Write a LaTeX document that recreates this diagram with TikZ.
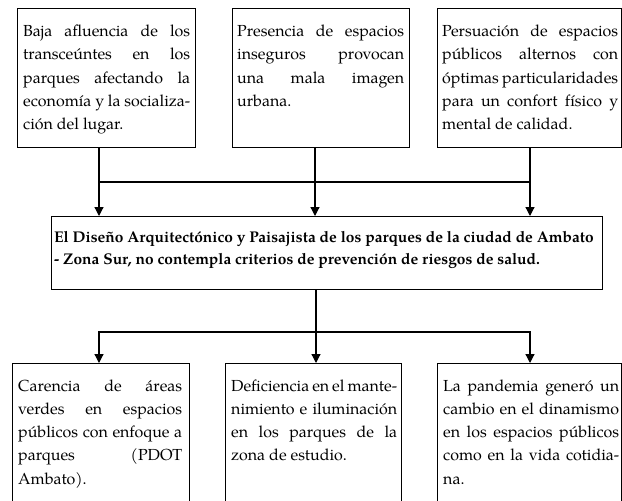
\documentclass[tikz,border=0pt]{standalone}
\usepackage{fontspec}
\setmainfont{TeX Gyre Pagella}
\usetikzlibrary{arrows.meta}
\newcommand\jline[1]{\noindent\makebox[\hsize][s]{#1}\par}
\newcommand\lline[1]{\noindent\makebox[\hsize][l]{#1}\par}
\newcommand\btext[2]{\vbox{\hsize=#1\relax\fontsize{16}{23.2}\selectfont\parindent=0pt\parskip=0pt\hbox{}#2}}
\newcommand\bbtext[2]{\vbox{\hsize=#1\relax\fontsize{15.5}{22}\selectfont\bfseries\parindent=0pt\parskip=0pt\hbox{}#2}}
\begin{document}
\begin{tikzpicture}[x=1pt,y=-1pt,
  box/.style={draw, line width=1.2pt, inner sep=0pt, anchor=north west},
  txt/.style={inner sep=0pt, anchor=north west},
  ln/.style={line width=1.2pt, line cap=rect},
  arr/.style={line width=1.2pt, -{Triangle[width=9pt,length=9pt]}}]
\useasboundingbox (0,0) rectangle (622,501);
\fill[white] (0,0) rectangle (622,501);
\clip (0,0) rectangle (622,501);
% top boxes
\node[box, minimum width=178pt, minimum height=139pt] (t1) at (17,8) {};
\node[txt] (t1x) at (23,13.3) {\btext{167pt}{%
\jline{Baja afluencia de los}
\jline{transceúntes en los}
\jline{parques afectando la}
\jline{economía y la socializa-}
\lline{ción del lugar.}}};
\node[box, minimum width=177pt, minimum height=139pt] (t2) at (232,8) {};
\node[txt] (t2x) at (237,13.3) {\btext{167pt}{%
\jline{Presencia de espacios}
\jline{inseguros provocan}
\jline{una mala imagen}
\lline{urbana.}}};
\node[box, minimum width=184pt, minimum height=139pt] (t3) at (437,8) {};
\node[txt] (t3x) at (442,13.3) {\btext{176pt}{%
\jline{Persuación de espacios}
\jline{públicos alternos con}
\jline{óptimas particularidades}
\jline{para un confort físico y}
\lline{mental de calidad.}}};
% central box
\node[box, minimum width=551pt, minimum height=73pt] (c) at (51,216) {};
\node[txt] (cx) at (54,220) {\bbtext{545pt}{%
\lline{El Diseño Arquitectónico y Paisajista de los parques de la ciudad de Ambato}
\lline{- Zona Sur, no contempla criterios de prevención de riesgos de salud.}}};
% bottom boxes
\node[box, minimum width=177pt, minimum height=200pt] (b1) at (12,363) {};
\node[txt] (b1x) at (18,367.8) {\btext{164pt}{%
\jline{Carencia de áreas}
\jline{verdes en espacios}
\jline{públicos con enfoque a}
\jline{parques (PDOT}
\lline{Ambato).}}};
\node[box, minimum width=176pt, minimum height=200pt] (b2) at (225,363) {};
\node[txt] (b2x) at (231,367.8) {\btext{166pt}{%
\jline{Deficiencia en el mante-}
\jline{nimiento e iluminación}
\jline{en los parques de la}
\lline{zona de estudio.}}};
\node[box, minimum width=184pt, minimum height=200pt] (b3) at (437,363) {};
\node[txt] (b3x) at (443,367.8) {\btext{176pt}{%
\jline{La pandemia generó un}
\jline{cambio en el dinamismo}
\jline{en los espacios públicos}
\jline{como en la vida cotidia-}
\lline{na.}}};
% upper connectors
\coordinate (a1) at (99,182);
\coordinate (a2) at (315,182);
\coordinate (a3) at (530,182);
\draw[arr] (t1.south -| a1) -- (c.north -| a1);
\draw[arr] (t2.south -| a2) -- (c.north -| a2);
\draw[arr] (t3.south -| a3) -- (c.north -| a3);
\draw[ln] (a1) -- (a3);
% lower connectors
\coordinate (m) at (316,332);
\coordinate (d1) at (99,332);
\coordinate (d3) at (530,332);
\draw[arr] (c.south -| m) -- (b2.north -| m);
\draw[ln] (d1) -- (d3);
\draw[arr] (d1) -- (b1.north -| d1);
\draw[arr] (d3) -- (b3.north -| d3);
\end{tikzpicture}
\end{document}
